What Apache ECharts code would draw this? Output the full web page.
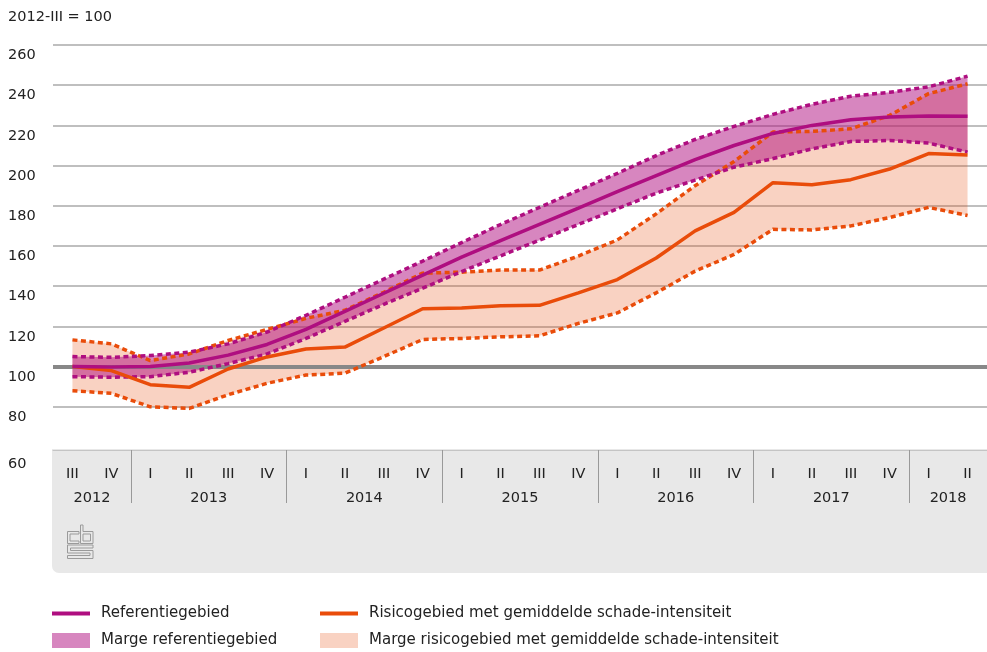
<!DOCTYPE html>
<html>
<head>
<meta charset="utf-8">
<script src="https://cdn.jsdelivr.net/npm/echarts@6/dist/echarts.min.js"></script>
<style>
html, body { margin: 0; padding: 0; background: #fff; }
#chart { width: 987px; height: 652px; }
</style>
</head>
<body>
<div id="chart"></div>
<script>
const categories = [
  '2012-III', '2012-IV',
  '2013-I', '2013-II', '2013-III', '2013-IV',
  '2014-I', '2014-II', '2014-III', '2014-IV',
  '2015-I', '2015-II', '2015-III', '2015-IV',
  '2016-I', '2016-II', '2016-III', '2016-IV',
  '2017-I', '2017-II', '2017-III', '2017-IV',
  '2018-I', '2018-II',
]

const referentie = [100, 99.8, 100, 101.8, 105.7, 111, 118.5, 127.5, 136.5, 145.5, 154.5, 162.7,
  170.8, 178.8, 187, 195, 203, 210, 216, 220, 222.8, 224.2, 224.7, 224.5]
const referentieBoven = [105, 104.6, 105.5, 107.2, 111.3, 117.2, 125.5, 134.5, 143.5, 152.5, 161.7, 170.7,
  179.2, 187.7, 196.1, 205, 213, 219.5, 225.5, 230.5, 234.5, 236.5, 239.2, 244.5]
const referentieOnder = [95, 94.7, 95, 97.2, 101.5, 106.3, 114, 122.5, 131, 139, 147.3, 155.1,
  162.9, 170.7, 178.5, 186.3, 192.8, 199.2, 203.5, 208.3, 212, 212.5, 211.2, 206.7]

const risico = [100, 98, 91, 89.7, 98.8, 104.8, 108.8, 109.7, 119.2, 128.8, 129.2, 130.3,
  130.5, 136.7, 143.3, 154, 167.5, 176.7, 191.5, 190.5, 193, 198.3, 206, 205.3]
const risicoBoven = [113.3, 111.3, 103, 106.3, 113, 118.5, 124, 128, 137, 146.5, 147, 148,
  148, 155, 163, 176, 190, 202, 216.7, 217, 218.3, 225, 235.8, 240.7]
const risicoOnder = [88, 86.7, 80, 79.2, 86, 91.7, 95.8, 96.7, 105, 113.5, 114, 114.8,
  115.3, 121.5, 126.7, 136.7, 147.5, 155.8, 168.3, 168, 170, 174.2, 179.2, 175.2]

const FONT = 'DejaVu Sans'
const PURPLE = '#af0e80'
const ORANGE = '#e94c0a'
const PURPLE_BAND = 'rgba(175,14,128,0.5)'
const ORANGE_BAND = 'rgba(233,76,10,0.25)'

// jaren groeperen voor de tweede as
const years = []
categories.forEach((c, i) => {
  const y = c.split('-')[0]
  const last = years[years.length - 1]
  if (!last || last.year !== y) years.push({ year: y, first: i, last: i })
  else last.last = i
})
const yearMid = years.map(y => (y.first + y.last) / 2)
const yearSep = years.slice(1).map(y => y.first - 0.5)
const yearAt = v => {
  const hit = years.find(y => (y.first + y.last) / 2 === v)
  return hit ? hit.year : ''
}

const diff = (hi, lo) => hi.map((v, i) => +(v - lo[i]).toFixed(2))

const hidden = { opacity: 0 }
const lineIcon = 'path://M0,0H38V4H0Z'
const logoStyle = { fill: 'none', stroke: '#9a9a9a', lineWidth: 1 }

const chart = echarts.init(document.getElementById('chart'))
chart.setOption({
  animation: false,
  textStyle: { fontFamily: FONT },
  title: {
    text: '2012-III = 100',
    left: 8,
    top: 10,
    padding: 0,
    textStyle: { fontFamily: FONT, fontSize: 14.5, fontWeight: 'normal', color: '#222' },
  },
  grid: { left: 53, right: 0, top: 45, height: 402 },
  graphic: [
    {
      type: 'rect',
      x: 52,
      y: 449,
      z: -10,
      shape: { x: 0, y: 0, width: 935, height: 124, r: [0, 0, 0, 7] },
      style: { fill: '#e8e8e8' },
    },
    {
      type: 'group',
      x: 67,
      y: 525,
      z: -5,
      children: [
        { type: 'polygon', shape: { points: [[12, 6.5], [0.5, 6.5], [0.5, 18.5], [12, 18.5], [12, 16], [3, 16], [3, 9], [12, 9]] }, style: logoStyle },
        { type: 'polygon', shape: { points: [[13.5, 0], [16, 0], [16, 6.5], [26, 6.5], [26, 18.5], [13.5, 18.5]] }, style: logoStyle },
        { type: 'polygon', shape: { points: [[16, 9], [23.5, 9], [23.5, 16], [16, 16]] }, style: logoStyle },
        { type: 'polygon', shape: { points: [[26, 20], [0.5, 20], [0.5, 28], [23, 28], [23, 30.5], [0.5, 30.5], [0.5, 33.5], [26, 33.5], [26, 25.5], [3.5, 25.5], [3.5, 23], [26, 23]] }, style: logoStyle },
      ],
    },
  ],
  legend: [
    {
      left: 52,
      top: 606,
      orient: 'vertical',
      padding: 0,
      itemWidth: 38,
      itemHeight: 15,
      itemGap: 12,
      selectedMode: false,
      itemStyle: { borderWidth: 0 },
      textStyle: { fontFamily: FONT, fontSize: 15, color: '#222', padding: [0, 0, 0, 6] },
      data: [
        { name: 'Referentiegebied', icon: lineIcon },
        { name: 'Marge referentiegebied', icon: 'rect' },
      ],
    },
    {
      left: 320,
      top: 606,
      orient: 'vertical',
      padding: 0,
      itemWidth: 38,
      itemHeight: 15,
      itemGap: 12,
      selectedMode: false,
      itemStyle: { borderWidth: 0 },
      textStyle: { fontFamily: FONT, fontSize: 15, color: '#222', padding: [0, 0, 0, 6] },
      data: [
        { name: 'Risicogebied met gemiddelde schade-intensiteit', icon: lineIcon },
        { name: 'Marge risicogebied met gemiddelde schade-intensiteit', icon: 'rect' },
      ],
    },
  ],
  xAxis: [
    {
      type: 'category',
      data: categories,
      boundaryGap: true,
      offset: 3,
      axisLine: { lineStyle: { color: '#c4c4c4', width: 1 } },
      axisTick: { alignWithLabel: true, length: 9, lineStyle: { color: '#999' } },
      axisLabel: {
        interval: 0,
        margin: 17,
        fontFamily: FONT,
        fontSize: 14.5,
        color: '#222',
        formatter: v => v.split('-')[1],
      },
      splitLine: { show: false },
    },
    {
      type: 'value',
      position: 'bottom',
      min: -0.5,
      max: 23.5,
      offset: 3,
      axisLine: { show: false },
      splitLine: { show: false },
      axisTick: { show: true, customValues: yearSep, length: 53, lineStyle: { color: '#999' } },
      axisLabel: {
        customValues: yearMid,
        margin: 41,
        fontFamily: FONT,
        fontSize: 14.5,
        color: '#222',
        formatter: v => yearAt(v),
      },
    },
  ],
  yAxis: {
    type: 'value',
    min: 60,
    max: 260,
    interval: 20,
    axisLine: { show: false },
    axisTick: { show: false },
    splitLine: { showMinLine: false, lineStyle: { color: '#aaa', width: 1.5 } },
    axisLabel: {
      align: 'left',
      verticalAlign: 'top',
      margin: 45,
      padding: [3, 0, 0, 0],
      fontFamily: FONT,
      fontSize: 14.5,
      color: '#222',
      formatter: v => (v === 60 ? '{low|60}' : String(v)),
      rich: {
        low: { fontFamily: FONT, fontSize: 14.5, color: '#222', padding: [7, 0, 0, 0] },
      },
    },
  },
  series: [
    {
      name: '_risicoOnder',
      type: 'line',
      data: risicoOnder,
      stack: 'risico',
      symbol: 'none',
      lineStyle: hidden,
      silent: true,
      z: 1,
    },
    {
      name: 'Marge risicogebied met gemiddelde schade-intensiteit',
      type: 'line',
      data: diff(risicoBoven, risicoOnder),
      stack: 'risico',
      symbol: 'none',
      color: ORANGE_BAND,
      lineStyle: hidden,
      areaStyle: { color: ORANGE_BAND, opacity: 1 },
      silent: true,
      z: 1,
    },
    {
      name: '_referentieOnder',
      type: 'line',
      data: referentieOnder,
      stack: 'referentie',
      symbol: 'none',
      lineStyle: hidden,
      silent: true,
      z: 2,
      markLine: {
        z: 3,
        silent: true,
        symbol: ['none', 'none'],
        label: { show: false },
        lineStyle: { color: '#888', width: 4, type: 'solid' },
        data: [{ yAxis: 100 }],
      },
    },
    {
      name: 'Marge referentiegebied',
      type: 'line',
      data: diff(referentieBoven, referentieOnder),
      stack: 'referentie',
      symbol: 'none',
      color: PURPLE_BAND,
      lineStyle: hidden,
      areaStyle: { color: PURPLE_BAND, opacity: 1 },
      silent: true,
      z: 2,
    },
    {
      name: '_risicoBoven',
      type: 'line',
      data: risicoBoven,
      symbol: 'none',
      lineStyle: { color: ORANGE, width: 3.5, type: [5, 3.5] },
      z: 4,
    },
    {
      name: '_risicoOnderLijn',
      type: 'line',
      data: risicoOnder,
      symbol: 'none',
      lineStyle: { color: ORANGE, width: 3.5, type: [5, 3.5] },
      z: 4,
    },
    {
      name: '_referentieBoven',
      type: 'line',
      data: referentieBoven,
      symbol: 'none',
      lineStyle: { color: PURPLE, width: 3.5, type: [5, 3.5] },
      z: 4,
    },
    {
      name: '_referentieOnderLijn',
      type: 'line',
      data: referentieOnder,
      symbol: 'none',
      lineStyle: { color: PURPLE, width: 3.5, type: [5, 3.5] },
      z: 4,
    },
    {
      name: 'Risicogebied met gemiddelde schade-intensiteit',
      type: 'line',
      data: risico,
      symbol: 'none',
      color: ORANGE,
      lineStyle: { color: ORANGE, width: 3.5 },
      z: 5,
    },
    {
      name: 'Referentiegebied',
      type: 'line',
      data: referentie,
      symbol: 'none',
      color: PURPLE,
      lineStyle: { color: PURPLE, width: 3.5 },
      z: 6,
    },
  ],
})
</script>
</body>
</html>
